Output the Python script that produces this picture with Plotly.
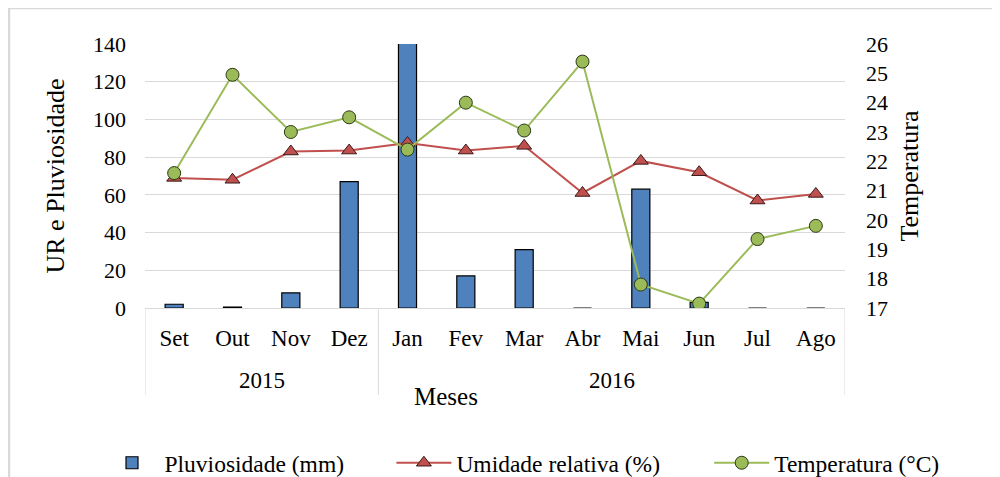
import plotly.graph_objects as go

years = ["2015"] * 4 + ["2016"] * 8
months = ["Set", "Out", "Nov", "Dez", "Jan", "Fev", "Mar", "Abr", "Mai", "Jun", "Jul", "Ago"]
pluviosidade = [2, 0.5, 8, 67, 165, 17, 31, 0, 63, 3, 0, 0]
umidade = [69, 68, 83, 83.5, 87.5, 83.5, 86, 61, 78, 72, 57, 60.5]
temperatura = [21.6, 24.95, 23.0, 23.5, 22.4, 24.0, 23.05, 25.4, 17.8, 17.15, 19.35, 19.8]

FONT = "Liberation Serif"
GRID = "#d9d9d9"

fig = go.Figure()
fig.add_trace(go.Bar(
    x=months, y=pluviosidade, name="Pluviosidade (mm)", legend="legend",
    marker=dict(color="#4F81BD", line=dict(color="#000000", width=1.2)),
))
fig.add_trace(go.Scatter(
    x=months, y=umidade, name="Umidade relativa (%)", mode="lines+markers", legend="legend2",
    line=dict(color="#C0504D", width=2),
    marker=dict(symbol="triangle-up", size=13, color="#C0504D", line=dict(color="#3a1a1a", width=1)),
))
fig.add_trace(go.Scatter(
    x=months, y=temperatura, name="Temperatura (°C)", mode="lines+markers", yaxis="y2",
    legend="legend3",
    line=dict(color="#9BBB59", width=2),
    marker=dict(symbol="circle", size=13, color="#9BBB59", line=dict(color="#2b3a15", width=1)),
))

# year group labels and dividers, derived from the years list
shapes = []
annotations = []
groups = []
for i, yv in enumerate(years):
    if not groups or groups[-1][0] != yv:
        groups.append([yv, i, i])
    else:
        groups[-1][2] = i
bounds = sorted({g[1] - 0.5 for g in groups} | {g[2] + 0.5 for g in groups})
for b in bounds:
    shapes.append(dict(type="line", xref="x", yref="paper", x0=b, x1=b, y0=0, y1=-0.33,
                       line=dict(color=GRID, width=1)))
for yv, i0, i1 in groups:
    annotations.append(dict(text=yv, xref="x", yref="paper", x=(i0 + i1) / 2, y=-0.275,
                            showarrow=False, yanchor="middle",
                            font=dict(family=FONT, size=23, color="#000000")))
annotations.append(dict(text="Meses", xref="paper", yref="paper", x=0.43, y=-0.335,
                        showarrow=False, yanchor="middle",
                        font=dict(family=FONT, size=25, color="#000000")))

shapes.append(dict(type="rect", xref="paper", yref="paper",
                   x0=-0.1943, x1=1.236, y0=-0.7, y1=1.136,
                   line=dict(color=GRID, width=2.5), fillcolor="rgba(0,0,0,0)", layer="below"))

def legend_at(xpos):
    return dict(orientation="h", x=xpos, xanchor="left", y=-0.587, yanchor="middle",
                bgcolor="rgba(0,0,0,0)",
                font=dict(family=FONT, size=23.5, color="#000000"), itemwidth=55)

fig.update_layout(
    width=1000, height=477,
    margin=dict(l=137, r=163, t=36, b=177, autoexpand=False),
    paper_bgcolor="white", plot_bgcolor="white",
    font=dict(family=FONT, size=22, color="#000000"),
    bargap=0.69,
    showlegend=True,
    legend=legend_at(-0.065),
    legend2=legend_at(0.352),
    legend3=legend_at(0.806),
    xaxis=dict(
        type="category", automargin=False, range=[-0.5, len(months) - 0.5],
        showline=True, linecolor=GRID, linewidth=1,
        ticklabelstandoff=9,
        tickfont=dict(family=FONT, size=23),
        showgrid=False,
    ),
    yaxis=dict(
        range=[0, 140], dtick=20, showgrid=True, gridcolor=GRID, gridwidth=1,
        zeroline=False, ticklabelstandoff=18, automargin=False,
        tickfont=dict(family=FONT, size=22),
        title=dict(text="UR e Pluviosidade", font=dict(family=FONT, size=26), standoff=20),
    ),
    yaxis2=dict(
        range=[17, 26], dtick=1, overlaying="y", side="right", showgrid=False,
        zeroline=False, ticklabelstandoff=20, automargin=False,
        tickfont=dict(family=FONT, size=22),
        title=dict(text="Temperatura", font=dict(family=FONT, size=26), standoff=12),
    ),
    shapes=shapes,
    annotations=annotations,
)

fig.write_html("out.html")
